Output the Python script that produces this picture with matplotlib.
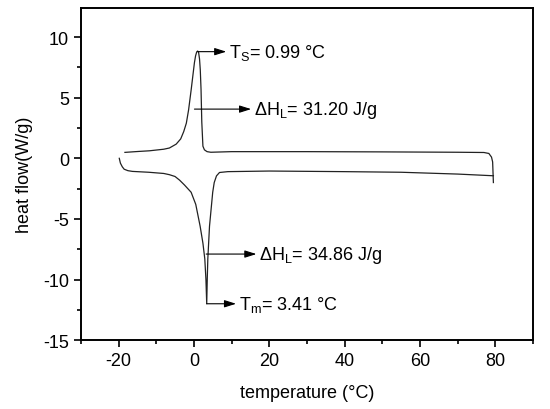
import numpy as np
import matplotlib
matplotlib.use("Agg")
import matplotlib.pyplot as plt

plt.rcParams['font.family'] = ['Liberation Sans', 'DejaVu Sans']
plt.rcParams['mathtext.fontset'] = 'custom'
plt.rcParams['mathtext.rm'] = 'Liberation Sans'
plt.rcParams['mathtext.it'] = 'Liberation Sans:italic'
plt.rcParams['axes.unicode_minus'] = False

FS = 13

# cooling run (upper curve, exotherm)
cool_T = [-18.3, -15, -11.8, -8, -6.5, -4.7, -3.5, -2.7, -2.0, -1.4, -0.7, 0.15,
          0.45, 0.75, 1.0, 1.25, 1.5, 1.7, 1.9, 2.1, 2.4, 2.8, 3.5, 4.5, 10, 30, 50, 70, 77,
          78.3, 79.0, 79.3, 79.5]
cool_Q = [0.49, 0.56, 0.62, 0.75, 0.85, 1.17, 1.6, 2.2, 2.9, 4.0, 5.7, 7.9,
          8.45, 8.78, 8.85, 8.75, 8.2, 7.3, 5.7, 3.0, 1.0, 0.7, 0.55, 0.5, 0.55, 0.55, 0.53, 0.5, 0.48,
          0.4, 0.1, -0.3, -2.0]

# heating run (lower curve, endotherm)
heat_T = [-19.8, -19.5, -19.0, -18.5, -17.5, -16.3, -12, -8, -6.5, -5, -3.8, -2.5,
          -0.73, 0.5, 1.66, 2.4, 2.9, 3.2, 3.41, 3.55, 3.7, 4.15, 5.0, 5.4, 6.0, 6.8,
          9, 20, 40, 55, 70, 79.5]
heat_Q = [0.0, -0.4, -0.7, -0.9, -1.02, -1.08, -1.15, -1.25, -1.35, -1.5, -1.8, -2.2,
          -2.8, -3.8, -5.6, -7.0, -8.3, -10, -12.0, -10, -8.3, -5.6, -2.8, -2.0, -1.45, -1.17,
          -1.1, -1.05, -1.1, -1.15, -1.3, -1.44]

# annotations: arrow start (T, Q), arrow end T, label
notes = [
    ((1.0, 8.8), 8.6, r'T$_\mathrm{S}$= 0.99 °C'),
    ((0.15, 4.06), 15.2, r'ΔH$_\mathrm{L}$= 31.20 J/g'),
    ((3.26, -7.9), 16.6, r'ΔH$_\mathrm{L}$= 34.86 J/g'),
    ((3.41, -12.0), 11.2, r'T$_\mathrm{m}$= 3.41 °C'),
]

fig = plt.figure(figsize=(5.5, 4.1), dpi=100)
ax = fig.add_axes([0.147, 0.168, 0.822, 0.81])

ax.plot(cool_T, cool_Q, color='#222222', lw=0.9)
ax.plot(heat_T, heat_Q, color='#222222', lw=0.9)

for (x0, y0), x1, lab in notes:
    ax.annotate('', xy=(x1, y0), xytext=(x0, y0),
                arrowprops=dict(arrowstyle='-|>,head_length=0.7,head_width=0.22',
                                color='black', lw=0.8, shrinkA=0, shrinkB=0))
    ax.text(x1 + 0.8, y0, lab, fontsize=FS, va='center', ha='left')

ax.set_xlim(-30, 90)
ax.set_ylim(-15, 12.4)
ax.set_xticks([-20, 0, 20, 40, 60, 80])
ax.set_xticks(np.arange(-30, 91, 10), minor=True)
ax.set_yticks([-15, -10, -5, 0, 5, 10])
ax.set_yticks(np.arange(-15, 12.5, 2.5), minor=True)
ax.tick_params(which='both', direction='out', labelsize=FS, width=1.2)
ax.tick_params(which='major', length=5)
ax.tick_params(which='minor', length=3)
for s in ax.spines.values():
    s.set_linewidth(1.4)

ax.set_xlabel('temperature (°C)', fontsize=FS, labelpad=11)
ax.set_ylabel('heat flow(W/g)', fontsize=FS, labelpad=7)

fig.savefig('out.png', dpi=100)
